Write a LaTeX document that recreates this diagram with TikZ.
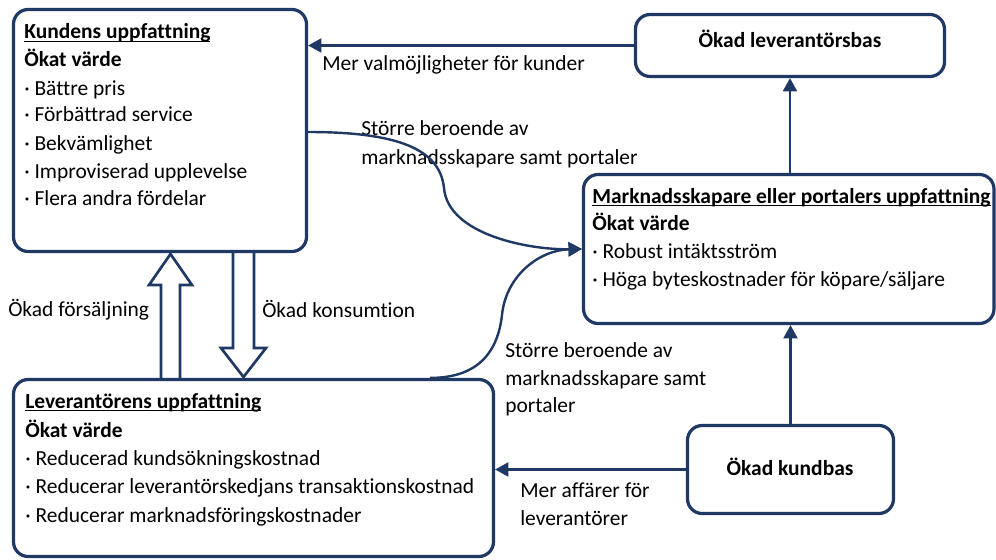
\documentclass[tikz,border=0pt]{standalone}
\usepackage{fontspec}
\setmainfont{Carlito}[Ligatures=NoCommon]
\usetikzlibrary{arrows.meta,fit}
\definecolor{navy}{RGB}{31,56,100}
% underline sitting a fixed distance below the baseline
\newcommand\ulbar[1]{\setbox0\hbox{#1}\rlap{\rule[-2.6pt]{\wd0}{0.8pt}}\box0}

\tikzset{
  box/.style={draw=navy, line width=2.4pt, rounded corners=11pt, inner sep=0pt, fill=white},
  conn/.style={draw=navy, line width=1.8pt, -{Triangle[length=10pt,width=10.5pt]}},
  blockarrow/.style={draw=navy, line width=2pt, fill=white, line join=miter},
  txt/.style={anchor=base west, inner sep=0pt, font=\fontsize{16.1}{19}\selectfont},
  btxt/.style={txt, font=\fontsize{16.1}{19}\selectfont\bfseries},
  ctxt/.style={btxt, anchor=base},
}

\begin{document}
\begin{tikzpicture}[x=0.75pt,y=-0.75pt]
\useasboundingbox (0,0) rectangle (996,560);

% hollow block arrows between the customer and supplier boxes
\draw[blockarrow] (161,380) -- (161,285) -- (149,285) -- (170.5,254) -- (192,285) -- (180,285) -- (180,380);
\draw[blockarrow] (233,252) -- (233,348) -- (221,348) -- (243.5,377) -- (266,348) -- (254,348) -- (254,252);

% boxes
\node[box, fit={(13.5,9.5) (306.5,251.5)}] (kund) {};
\node[box, fit={(635.5,14.5) (944.5,76.5)}] (lbas) {};
\node[box, fit={(583.5,174.5) (994,323.5)}] (mark) {};
\node[box, fit={(13.5,379.5) (493.5,556.5)}] (lev) {};
\node[box, fit={(687.5,425.5) (893.5,513.5)}] (kbas) {};

% customer box text
\node[btxt] (k1) at (24,39) {\ulbar{Kundens uppfattning}};
\node[btxt] (k2) at (24,67) {Ökat värde};
\node[txt] (k3) at (24,95) {· Bättre pris};
\node[txt] (k4) at (24,122) {· Förbättrad service};
\node[txt] (k5) at (24,150) {· Bekvämlighet};
\node[txt] (k6) at (24,178) {· Improviserad upplevelse};
\node[txt] (k7) at (24,205) {· Flera andra fördelar};

% market maker box text
\node[btxt] (m1) at (592,203) {\ulbar{Marknadsskapare eller portalers uppfattning}};
\node[btxt] (m2) at (592,230) {Ökat värde};
\node[txt] (m3) at (592,258) {· Robust intäktsström};
\node[txt] (m4) at (592,286) {· Höga byteskostnader för köpare/säljare};

% supplier box text
\node[btxt] (l1) at (25,408) {\ulbar{Leverantörens uppfattning}};
\node[btxt] (l2) at (25,437) {Ökat värde};
\node[txt] (l3) at (25,465) {· Reducerad kundsökningskostnad};
\node[txt] (l4) at (25,493) {· Reducerar leverantörskedjans transaktionskostnad};
\node[txt] (l5) at (25,522) {· Reducerar marknadsföringskostnader};

% small boxes
\node[ctxt] (lbast) at (790,48) {Ökad leverantörsbas};
\node[ctxt] (kbast) at (790,475) {Ökad kundbas};

% connector labels
\node[txt] (a1) at (322,71) {Mer valmöjligheter för kunder};
\node[txt] (a2) at (520,497) {Mer affärer för};
\node[txt] (a3) at (520,525) {leverantörer};
\node[txt] (b1) at (361,136) {Större beroende av};
\node[txt] (b2) at (361,164) {marknadsskapare samt portaler};
\node[txt] (c1) at (505,357) {Större beroende av};
\node[txt] (c2) at (505,385) {marknadsskapare samt};
\node[txt] (c3) at (505,412) {portaler};
\node[txt] (d1) at (8,316) {Ökad försäljning};
\node[txt] (d2) at (262,317) {Ökad konsumtion};

% connectors
\coordinate (y132) at (0,132);
\coordinate (x430) at (430,0);
\draw[conn] (lbas.west) -- (kund.east |- lbas.west);
\draw[conn] (mark.north -| lbas.south) -- (lbas.south);
\draw[conn] (kbas.north) -- (kbas.north |- mark.south);
\draw[conn] (kbas.west) -- (lev.east |- kbas.west);
\draw[conn] (kund.east |- y132) .. controls (400,132) and (440,150) .. (444,188)
  .. controls (448,235) and (530,250) .. (mark.west);
\draw[conn] (lev.north -| x430) .. controls (480,378) and (498,350) .. (502,315)
  .. controls (506,275) and (540,250) .. (mark.west);
\end{tikzpicture}
\end{document}
